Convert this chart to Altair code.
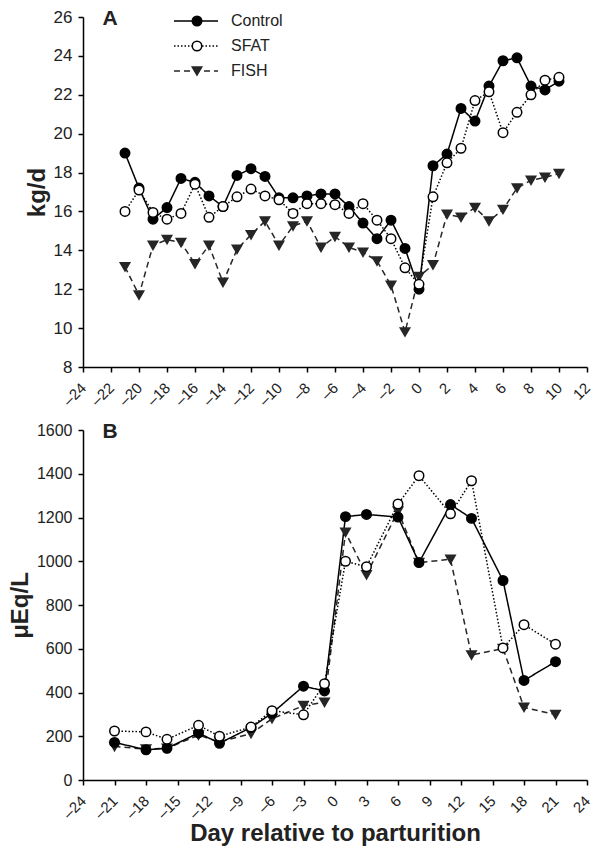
import altair as alt
import pandas as pd

series_names = ["Control", "SFAT", "FISH"]

# Panel A: DMI, kg/d
days_a = list(range(-21, 11))
control_a = [19.0, 17.2, 15.6, 16.2, 17.7, 17.5, 16.8, 16.25, 17.85, 18.2, 17.8, 16.7,
             16.7, 16.8, 16.9, 16.9, 16.25, 15.4, 14.6, 15.55, 14.1, 12.0,
             18.35, 18.95, 21.3, 20.65, 22.45, 23.75, 23.9, 22.45, 22.25, 22.7]
sfat_a = [16.0, 17.1, 15.95, 15.6, 15.9, 17.4, 15.7, 16.25, 16.75, 17.15, 16.8, 16.6,
          15.9, 16.4, 16.4, 16.35, 15.9, 16.4, 15.55, 14.6, 13.1, 12.25,
          16.75, 18.5, 19.25, 21.7, 22.15, 20.05, 21.1, 22.0, 22.75, 22.9]
fish_a = [13.15, 11.7, 14.25, 14.55, 14.4, 13.3, 14.25, 12.35, 14.05, 14.8, 15.5, 14.25,
          15.25, 15.5, 14.15, 14.7, 14.15, 13.9, 13.45, 12.2, 9.8, 12.65,
          13.25, 15.85, 15.7, 16.2, 15.5, 16.1, 17.2, 17.6, 17.75, 17.95]

# Panel B: NEFA, uEq/L
days_b = [-21, -18, -16, -13, -11, -8, -6, -3, -1, 1, 3, 6, 8, 11, 13, 16, 18, 21]
control_b = [172, 138, 145, 215, 168, 240, 305, 429, 407, 1204, 1214, 1202, 994, 1259, 1196, 912, 455, 541]
sfat_b = [224, 220, 186, 250, 200, 242, 317, 298, 440, 1000, 975, 1262, 1391, 1217, 1368, 604, 710, 621]
fish_b = [153, 141, 145, 205, 175, 212, 280, 340, 355, 1132, 938, 1229, 994, 1009, 571, 601, 332, 299]

ticks_a_x = list(range(-24, 13, 2))
ticks_a_y = list(range(8, 27, 2))
ticks_b_x = list(range(-24, 25, 3))
ticks_b_y = list(range(0, 1601, 200))


def long_df(days, ctrl, sfat, fish):
    rows = []
    for name, vals in (("FISH", fish), ("Control", ctrl), ("SFAT", sfat)):
        for d, v in zip(days, vals):
            rows.append({"day": d, "value": v, "series": name})
    return pd.DataFrame(rows)


df_a = long_df(days_a, control_a, sfat_a, fish_a)
df_b = long_df(days_b, control_b, sfat_b, fish_b)
legend_df = pd.DataFrame({"series": series_names})

stroke_scale = alt.Scale(domain=series_names, range=["#000000", "#000000", "#262626"])
fill_scale = alt.Scale(domain=series_names, range=["#000000", "#ffffff", "#262626"])
shape_scale = alt.Scale(domain=series_names, range=["circle", "circle", "triangle-down"])
dash_scale = alt.Scale(domain=series_names, range=[[1, 0], [1.5, 2], [6, 4]])
size_scale = alt.Scale(domain=series_names, range=[90, 90, 140])

label_expr = "replace(toString(datum.value), '-', '\u2013')"

PW = 504
PH = 350


def panel(df, xdom, xticks, ydom, yticks, ytitle, xtitle, letter, with_legend, lab_y, lab_x):
    x_axis = alt.Axis(values=xticks, labelAngle=-45, labelAlign="right", labelBaseline="middle",
                      labelExpr=label_expr, labelFontSize=lab_x, labelPadding=13,
                      labelOverlap=False, labelFlush=False,
                      title=xtitle if xtitle else None,
                      titleFontSize=24, titleFontWeight="bold", titlePadding=0)
    y_axis = alt.Axis(values=yticks, format="d", labelFontSize=lab_y, labelPadding=6, title=ytitle,
                      labelOverlap=False, labelFlush=False,
                      titleFontSize=24, titleFontWeight="bold", titlePadding=4)
    x = alt.X("day:Q", scale=alt.Scale(domain=xdom, nice=False, zero=False), axis=x_axis)
    y = alt.Y("value:Q", scale=alt.Scale(domain=ydom, nice=False, zero=False), axis=y_axis)
    base = alt.Chart(df)
    lines = base.mark_line(strokeWidth=1.5).encode(
        x=x, y=y,
        detail="series:N",
        stroke=alt.Stroke("series:N", scale=stroke_scale, legend=None),
        strokeDash=alt.StrokeDash("series:N", scale=dash_scale, legend=None),
    )
    points = base.mark_point(filled=True, strokeWidth=1.5, opacity=1).encode(
        x=x, y=y,
        shape=alt.Shape("series:N", scale=shape_scale, legend=None),
        fill=alt.Fill("series:N", scale=fill_scale, legend=None),
        stroke=alt.Stroke("series:N", scale=stroke_scale, legend=None),
        size=alt.Size("series:N", scale=size_scale, legend=None),
    )
    main = alt.layer(lines, points)
    letter_layer = alt.Chart(pd.DataFrame({"label": [letter]})).mark_text(
        fontSize=21, fontWeight="bold", color="#222222", align="center", baseline="alphabetic"
    ).encode(x=alt.value(27), y=alt.value(8), text="label:N")
    layers = [main, letter_layer]
    if with_legend:
        lbase = alt.Chart(legend_df).transform_window(rank="row_number()")
        ly = alt.Y("rank:Q", scale=alt.Scale(domain=[1, 3], range=[4, 54]), axis=None)
        lrule = lbase.mark_rule(strokeWidth=1.5).encode(
            x=alt.value(91), x2=alt.value(135), y=ly,
            stroke=alt.Stroke("series:N", scale=stroke_scale, legend=None),
            strokeDash=alt.StrokeDash("series:N", scale=dash_scale, legend=None),
        )
        lpts = lbase.mark_point(filled=True, strokeWidth=1.5, opacity=1).encode(
            x=alt.value(114), y=ly,
            shape=alt.Shape("series:N", scale=shape_scale, legend=None),
            fill=alt.Fill("series:N", scale=fill_scale, legend=None),
            stroke=alt.Stroke("series:N", scale=stroke_scale, legend=None),
            size=alt.Size("series:N", scale=size_scale, legend=None),
        )
        ltext = lbase.mark_text(fontSize=16, align="left", baseline="middle",
                                color="#222222").encode(
            x=alt.value(148), y=ly, text="series:N"
        )
        layers += [lrule, lpts, ltext]
    ch = alt.layer(*layers).properties(width=PW, height=PH)
    if with_legend:
        ch = ch.resolve_scale(y="independent")
    return ch


pa = panel(df_a, [-24, 12], ticks_a_x, [8, 26], ticks_a_y, "kg/d", None, "A", True, 17, 15)
pb = panel(df_b, [-24, 24], ticks_b_x, [0, 1600], ticks_b_y, "\u03bcEq/L",
           "Day relative to parturition", "B", False, 16, 15)

chart = alt.vconcat(pa, pb, spacing=12).properties(
    padding={"left": 0, "top": 0, "right": 0, "bottom": 0}
).configure(font="Liberation Sans").configure_view(stroke=None).configure_axis(
    grid=False, domainColor="#000000", domainWidth=1.5, tickColor="#000000", tickWidth=1.5,
    tickSize=5, labelColor="#222222", titleColor="#222222", labelFont="Liberation Sans",
    titleFont="Liberation Sans"
)

chart.save("out.html", embed_options={"renderer": "svg", "actions": False})
